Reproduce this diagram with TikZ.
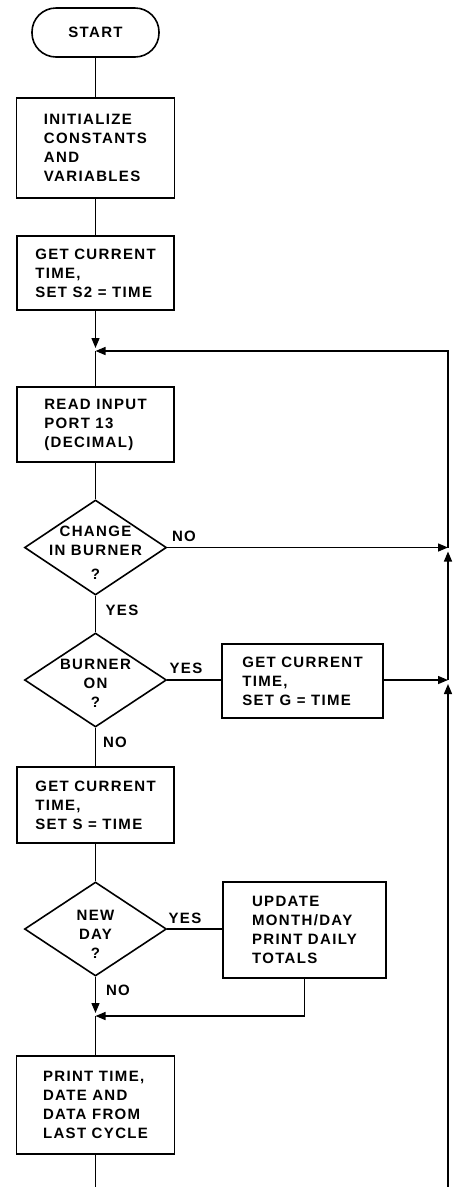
\documentclass[tikz,border=0pt]{standalone}
\usepackage{fontspec}
\usetikzlibrary{shapes.geometric,arrows.meta}
\newfontfamily\fcfont[LetterSpace=9]{Liberation Sans}
\begin{document}
\begin{tikzpicture}[x=1pt,y=-1pt,
  every node/.style={font=\fcfont\bfseries\fontsize{15}{19}\selectfont},
  box/.style={draw,line width=1.6pt,rectangle,align=left,inner sep=0pt},
  term/.style={draw,line width=1.6pt,rectangle,rounded corners=24pt,minimum width=127pt,minimum height=49pt,inner sep=0pt},
  dia/.style={draw,line width=1.6pt,diamond,inner sep=0pt,minimum width=142pt,minimum height=95pt},
  ln/.style={line width=1.4pt},
  arr/.style={line width=1.4pt,-{Triangle[length=10pt,width=8pt]}},
  lab/.style={inner sep=0pt}]
\useasboundingbox (0,0) rectangle (456,1187);
\def\mx{95.5}
\def\rx{448}
% nodes
\node[term] (start) at (\mx,32.5) {START};
\node[box,minimum width=158pt,minimum height=100pt] (init) at (\mx,148) {INITIALIZE\\CONSTANTS\\AND\\VARIABLES};
\node[box,minimum width=157pt,minimum height=74pt] (get1) at (\mx,273) {GET CURRENT\\TIME,\\SET S2 = TIME};
\coordinate (j1) at (\mx,351);
\node[box,minimum width=157pt,minimum height=75pt] (read) at (\mx,424.5) {READ INPUT\\PORT 13\\(DECIMAL)};
\node[dia,label={[align=center,yshift=-5pt]center:CHANGE\\IN BURNER\\[5pt]?}] (d1) at (\mx,547.5) {};
\node[dia,minimum height=94pt,label={[align=center,yshift=-3pt]center:BURNER\\ON\\?}] (d2) at (\mx,680) {};
\node[box,minimum width=161pt,minimum height=74pt] (getG) at (302.5,681) {GET CURRENT\\TIME,\\SET G = TIME};
\node[box,minimum width=157pt,minimum height=76pt] (getS) at (\mx,805) {GET CURRENT\\TIME,\\SET S = TIME};
\node[dia,minimum height=94pt,label={[align=center,yshift=-5pt]center:NEW\\DAY\\?}] (d3) at (\mx,929) {};
\node[box,minimum width=163pt,minimum height=96pt] (upd) at (304.5,930) {UPDATE\\MONTH/DAY\\PRINT DAILY\\TOTALS};
\coordinate (j2) at (\mx,1016);
\node[box,minimum width=158pt,minimum height=98pt] (print) at (\mx,1105) {PRINT TIME,\\DATE AND\\DATA FROM\\LAST CYCLE};
\coordinate (b1) at (\mx,1187);
\coordinate (b2) at (\rx,1187);
\coordinate (r1) at (\rx,547.5);
\coordinate (r2) at (\rx,680);
\coordinate (rt) at (\rx,351);
% labels
\node[lab] (noA) at (184,536) {NO};
\node[lab] (yesA) at (122,610) {YES};
\node[lab] (yesB) at (186,668) {YES};
\node[lab] (noB) at (115,742) {NO};
\node[lab] (yesC) at (185,918) {YES};
\node[lab] (noC) at (118,990) {NO};
% connectors
\draw[ln] (start) -- (init);
\draw[ln] (init) -- (get1);
\draw[arr,shorten >=3pt] (get1) -- (j1);
\draw[ln] (j1) -- (read);
\draw[ln] (read) -- (d1);
\draw[ln] (d1.south) -- (d2.north);
\draw[arr] (d1.east) -- (r1);
\draw[ln] (d2.east) -- (d2.east -| getG.west);
\draw[arr] (getG.east |- r2) -- (r2);
\draw[ln] (d2.south) -- (getS);
\draw[ln] (getS) -- (d3);
\draw[ln] (d3.east) -- (d3.east -| upd.west);
\draw[arr,shorten >=3pt] (d3.south) -- (j2);
\draw[arr] (upd.south) |- (j2);
\draw[ln] (j2) -- (print);
\draw[ln] (print) -- (b1);
\draw[arr,shorten >=4pt] (b2) -- (r2);
\draw[arr,shorten >=4pt] (r2) -- (r1);
\draw[arr] (r1) -- (rt) -- (j1);
\end{tikzpicture}
\end{document}
